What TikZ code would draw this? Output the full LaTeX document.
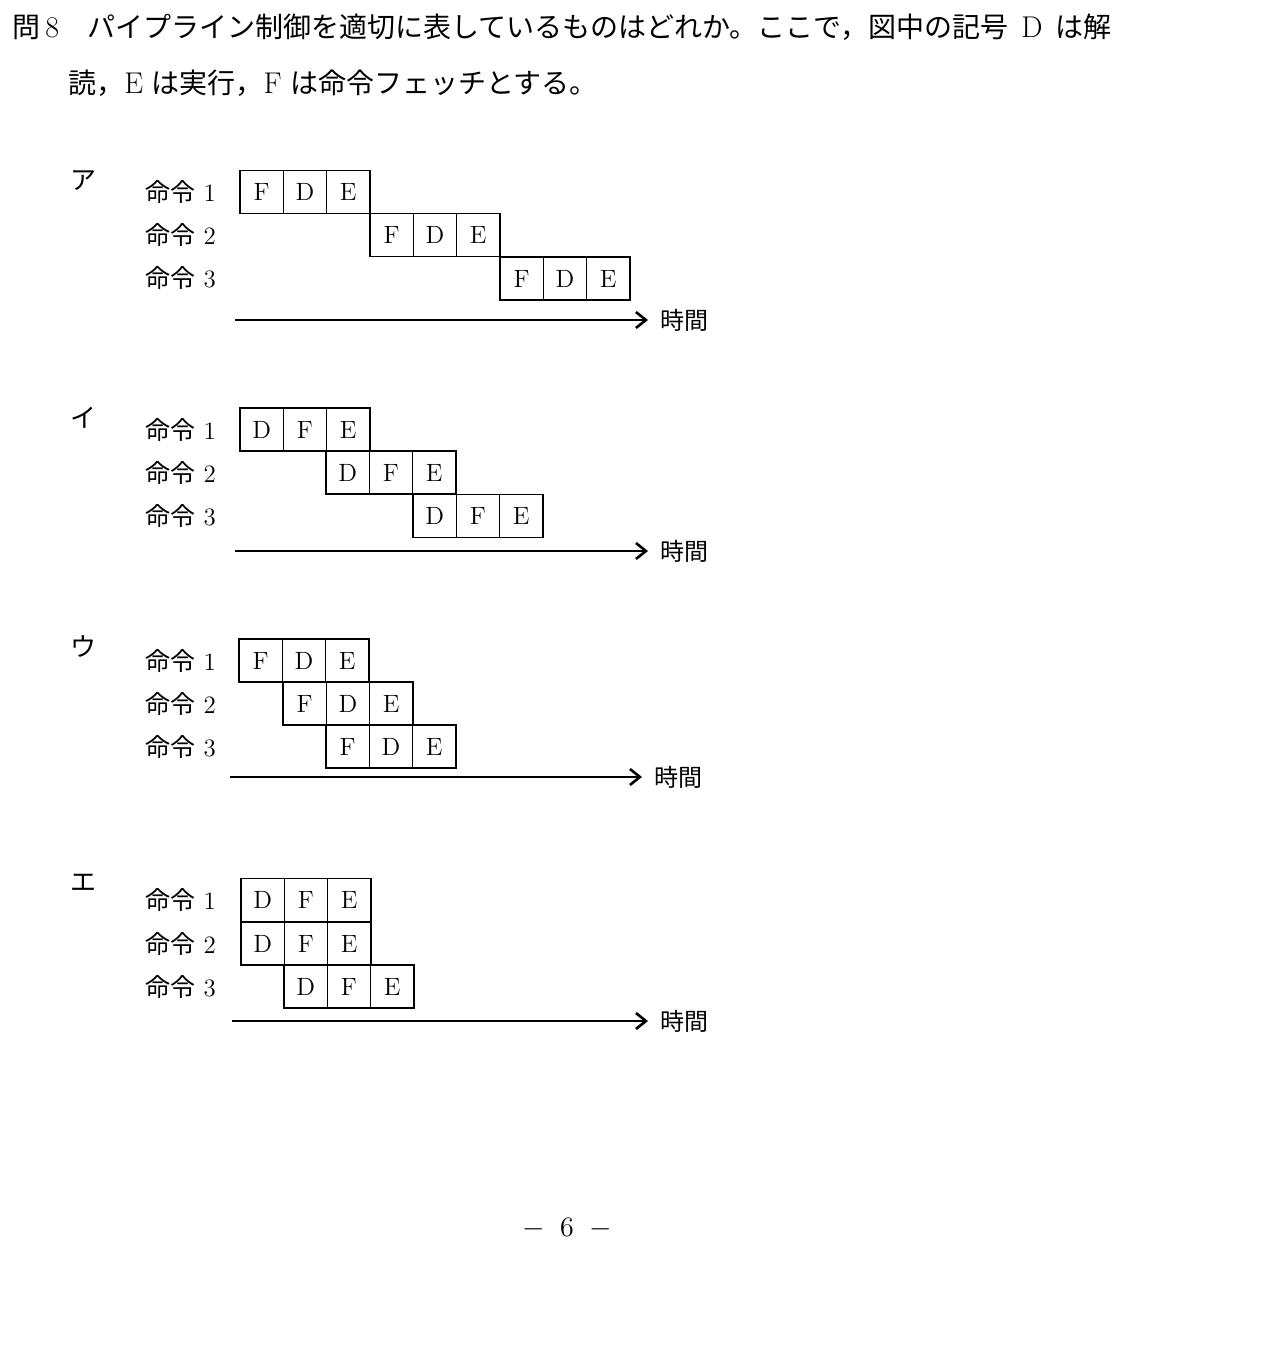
\documentclass[tikz,border=0pt]{standalone}
\usepackage{fontspec}
\newfontfamily\jpfont{Noto Sans CJK JP}
\usetikzlibrary{arrows.meta}
\newcommand{\Order}[1]{{\jpfont 命令}\ #1}

\begin{document}
\begin{tikzpicture}[x=0.5pt,y=-0.5pt,
  txt/.style={anchor=west,inner sep=0pt,font=\jpfont\fontsize{14}{14}\selectfont},
  choice/.style={anchor=west,inner sep=0pt,font=\jpfont\fontsize{13}{13}\selectfont},
  order/.style={anchor=west,inner sep=0pt,font=\fontsize{12.5}{12.5}\selectfont},
  cell/.style={draw,line width=0.75pt,minimum width=21.65pt,minimum height=21.5pt,
               inner sep=0pt,font=\fontsize{12.5}{12.5}\selectfont},
  timelbl/.style={anchor=west,inner sep=0pt,xshift=6pt,font=\jpfont\fontsize{12}{12}\selectfont},
  timeline/.style={-{Straight Barb[length=5pt,width=8pt]},line width=1.3pt,shorten >=6pt}]
  \useasboundingbox (0,0) rectangle (1288,1353);
  % question
  \node[txt] (q1) at (12,27) {問{\rmfamily\fontsize{15}{15}\selectfont\,8}　パイプライン制御を適切に表しているものはどれか。ここで，図中の記号\hspace{0.45em}{\rmfamily\fontsize{15}{15}\selectfont D}\hspace{0.45em}は解};
  \node[txt] (q2) at (68,83) {読，{\rmfamily\fontsize{15}{15}\selectfont E}\hspace{0.3em}は実行，{\rmfamily\fontsize{15}{15}\selectfont F}\hspace{0.3em}は命令フェッチとする。};
  % choices
  \foreach \c/\ch/\cy in {a/ア/181,b/イ/418,c/ウ/647,d/エ/883}
    \node[choice] (ch\c) at (70,\cy) {\ch};
  % rows: name/number/left edge/centre/stages
  \foreach \n/\r/\x/\y/\seq in {a1/1/240/192/{F,D,E},a2/2/370/235/{F,D,E},a3/3/500/278.5/{F,D,E},
                                b1/1/240/429.5/{D,F,E},b2/2/326/472.5/{D,F,E},b3/3/413/516/{D,F,E},
                                c1/1/239/660.5/{F,D,E},c2/2/283/703.5/{F,D,E},c3/3/326/746.5/{F,D,E},
                                d1/1/241/900/{D,F,E},d2/2/241/943.5/{D,F,E},d3/3/284/986.5/{D,F,E}}{
    \node[order] (l\n) at (145,\y) {\Order{\r}};
    \foreach \s [count=\k] in \seq
      \node[cell] (\n-\k) at ({\x+21.65+43.3*(\k-1)},\y) {\s};
  }
  % time axes
  \foreach \c/\xs/\xe/\ty in {a/235/648/320,b/235/648/551,c/230/642/777,d/232/648/1021}{
    \coordinate (t\c) at (\xs,\ty);
    \node[timelbl] (tl\c) at (\xe,\ty) {時間};
    \draw[timeline] (t\c) -- (tl\c.west);
  }
  % page number
  \node[font=\fontsize{14}{14}\selectfont] (pg) at (567,1228) {$-$\hspace{0.55em}6\hspace{0.55em}$-$};
\end{tikzpicture}
\end{document}
